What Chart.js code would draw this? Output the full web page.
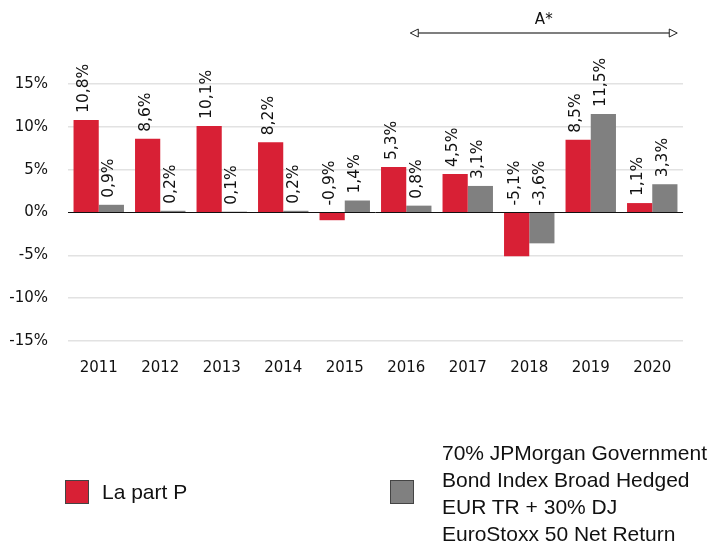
<!DOCTYPE html>
<html>
<head>
<meta charset="utf-8">
<script src="https://cdn.jsdelivr.net/npm/chart.js@4/dist/chart.umd.min.js"></script>
<style>
  body { margin: 0; background: #fff; }
  #wrap { position: relative; width: 715px; height: 543px; }
  .lg { position: absolute; font-family: "Liberation Sans", Arial, sans-serif; font-size: 21px; color: #111; }
  .box { position: absolute; width: 24px; height: 24px; border: 1px solid #444; box-sizing: border-box; }
</style>
</head>
<body>
<div id="wrap">
  <canvas id="chart" width="715" height="543"></canvas>
  <div class="box" style="left:65px; top:480px; background:#d82035;"></div>
  <div class="lg" style="left:102px; top:480px;">La part P</div>
  <div class="box" style="left:390px; top:480px; background:#808080;"></div>
  <div class="lg" style="left:442px; top:439px; line-height:27px;">70% JPMorgan Government<br>Bond Index Broad Hedged<br>EUR TR + 30% DJ<br>EuroStoxx 50 Net Return</div>
</div>
<script>
const years = ['2011', '2012', '2013', '2014', '2015', '2016', '2017', '2018', '2019', '2020'];
const partP = [10.8, 8.6, 10.1, 8.2, -0.9, 5.3, 4.5, -5.1, 8.5, 1.1];
const benchmark = [0.9, 0.2, 0.1, 0.2, 1.4, 0.8, 3.1, -3.6, 11.5, 3.3];
const yTicks = [-15, -10, -5, 0, 5, 10, 15];

const fmt = v => v.toFixed(1).replace('.', ',') + '%';

// rotated value labels above each bar (negative ones sit above the zero line)
const barLabels = {
    id: 'barLabels',
    afterDatasetsDraw(chart) {
        const ctx = chart.ctx;
        const zero = chart.scales.y.getPixelForValue(0);
        ctx.save();
        ctx.font = '15.5px "DejaVu Sans"';
        ctx.fillStyle = '#111';
        ctx.textAlign = 'left';
        ctx.textBaseline = 'middle';
        chart.data.datasets.forEach((ds, i) => {
            chart.getDatasetMeta(i).data.forEach((bar, j) => {
                const y = Math.min(bar.y, zero) - 7;
                ctx.save();
                ctx.translate(bar.x - 2, y);
                ctx.rotate(-Math.PI / 2);
                ctx.fillText(fmt(ds.data[j]), 0, 0);
                ctx.restore();
            });
        });
        ctx.restore();
    }
};

// "A*" period arrow over 2016-2020
const periodArrow = {
    id: 'periodArrow',
    afterDraw(chart) {
        const ctx = chart.ctx;
        const x = chart.scales.x;
        const x1 = x.getPixelForValue(5) + 4;
        const x2 = x.getPixelForValue(9) + 25;
        const y = 33;
        ctx.save();
        ctx.strokeStyle = '#555';
        ctx.lineWidth = 1.5;
        ctx.beginPath();
        ctx.moveTo(x1 + 6, y);
        ctx.lineTo(x2 - 6, y);
        ctx.stroke();
        ctx.lineWidth = 1;
        ctx.strokeStyle = '#222';
        ctx.fillStyle = '#fff';
        [[x1, 1], [x2, -1]].forEach(([px, d]) => {
            ctx.beginPath();
            ctx.moveTo(px, y);
            ctx.lineTo(px + 8 * d, y - 4);
            ctx.lineTo(px + 8 * d, y + 4);
            ctx.closePath();
            ctx.fill();
            ctx.stroke();
        });
        ctx.font = '15px "DejaVu Sans"';
        ctx.fillStyle = '#111';
        ctx.textAlign = 'center';
        ctx.textBaseline = 'middle';
        ctx.fillText('A*', (x1 + x2) / 2, 20);
        ctx.restore();
    }
};

new Chart(document.getElementById('chart').getContext('2d'), {
    type: 'bar',
    data: {
        labels: years,
        datasets: [
            { label: 'La part P', data: partP, backgroundColor: '#d82035' },
            { label: 'Benchmark', data: benchmark, backgroundColor: '#808080' }
        ]
    },
    options: {
        responsive: false,
        animation: false,
        devicePixelRatio: 1,
        layout: { padding: { top: 84, bottom: 162, left: 0, right: 32 } },
        datasets: { bar: { categoryPercentage: 0.82, barPercentage: 1 } },
        plugins: { legend: { display: false }, tooltip: { enabled: false } },
        scales: {
            x: {
                grid: { display: false },
                border: { display: false },
                ticks: { font: { family: 'DejaVu Sans', size: 15 }, color: '#111', padding: 10 },
                afterFit: s => { s.height = 40; }
            },
            y: {
                min: -15,
                max: 15,
                afterBuildTicks: s => { s.ticks = yTicks.map(v => ({ value: v })); },
                border: { display: false },
                grid: {
                    drawTicks: false,
                    color: c => c.tick.value === 0 ? '#111' : '#e2e2e2',
                    lineWidth: c => c.tick.value === 0 ? 1 : 1.5
                },
                ticks: {
                    font: { family: 'DejaVu Sans', size: 15 },
                    color: '#111',
                    padding: 20,
                    callback: v => v + '%'
                },
                afterFit: s => { s.width = 68; }
            }
        }
    },
    plugins: [barLabels, periodArrow]
});
</script>
</body>
</html>
